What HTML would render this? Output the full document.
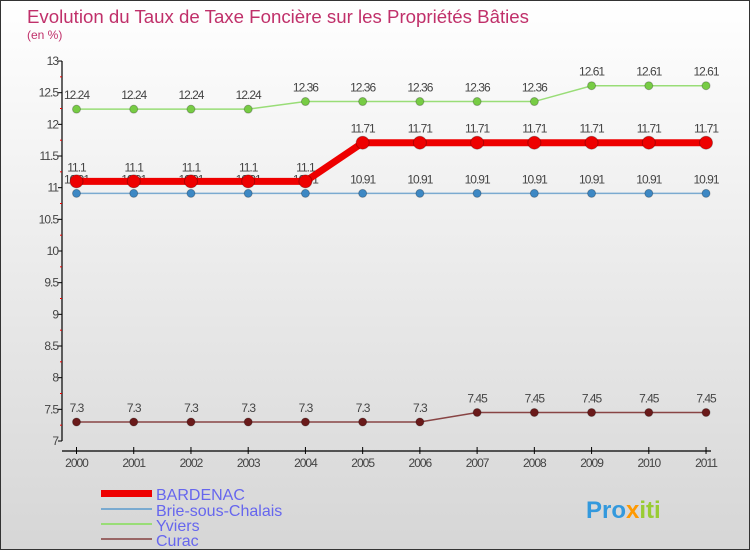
<!DOCTYPE html>
<html><head><meta charset="utf-8"><style>
body{margin:0}
#c{width:750px;height:550px;position:relative;overflow:hidden;background:linear-gradient(#ffffff,#d6d6d6);border:1px solid #333;box-sizing:border-box;font-family:"Liberation Sans",sans-serif}
</style></head><body>
<div id="c">
<svg width="750" height="550" id="s">
<text x="26" y="22" font-size="18" fill="#c0306a" textLength="502" lengthAdjust="spacingAndGlyphs">Evolution du Taux de Taxe Foncière sur les Propriétés Bâties</text>
<text x="26" y="38" font-size="12" fill="#c0306a">(en %)</text>
<g id="g"></g>
<text x="155" y="499" font-size="16" fill="#6666ee">BARDENAC</text>
<text x="155" y="515" font-size="16" fill="#6666ee">Brie-sous-Chalais</text>
<text x="155" y="530" font-size="16" fill="#6666ee">Yviers</text>
<text x="155" y="545" font-size="16" fill="#6666ee">Curac</text>
<rect x="100" y="489" width="51" height="7" fill="#ee0000"/>
<rect x="100" y="507" width="51" height="2" fill="#7aaad0"/>
<rect x="100" y="522" width="51" height="2" fill="#99dd77"/>
<rect x="100" y="537" width="51" height="2" fill="#996666"/>
<text x="585" y="517" font-size="24" font-weight="bold" fill="#3399dd">Pro<tspan fill="#ff9900">x</tspan><tspan fill="#99cc33">iti</tspan></text>
</svg>
</div>
<script>
const years=[2000,2001,2002,2003,2004,2005,2006,2007,2008,2009,2010,2011];
const bardenac=[11.1,11.1,11.1,11.1,11.1,11.71,11.71,11.71,11.71,11.71,11.71,11.71];
const brie=[10.91,10.91,10.91,10.91,10.91,10.91,10.91,10.91,10.91,10.91,10.91,10.91];
const yviers=[12.24,12.24,12.24,12.24,12.36,12.36,12.36,12.36,12.36,12.61,12.61,12.61];
const curac=[7.3,7.3,7.3,7.3,7.3,7.3,7.3,7.45,7.45,7.45,7.45,7.45];
const yTicks=[7,7.5,8,8.5,9,9.5,10,10.5,11,11.5,12,12.5,13];
const NS="http://www.w3.org/2000/svg";
const g=document.getElementById('g');
const X=i=>75.5+i*57.23;
const Y=v=>440-(v-7)*63.33;
function el(t,a){const e=document.createElementNS(NS,t);for(const k in a)e.setAttribute(k,a[k]);g.appendChild(e);return e;}
let e=el('line',{x1:61,y1:60,x2:61,y2:440,stroke:'#000','stroke-width':1.2});


e=el('line',{x1:61,y1:450,x2:710,y2:450,stroke:'#000','stroke-width':1.2});


yTicks.forEach((v,i)=>{
 e=el('line',{x1:57,x2:61,y1:Y(v),y2:Y(v),stroke:'#000'});
 
 
 e=el('text',{x:57,y:Y(v)+4,'font-size':12,'text-anchor':'end',fill:'#444','letter-spacing':'-1'});
 e.textContent=v;
 
 
 if(i<yTicks.length-1){
  e=el('line',{x1:59,x2:61,y1:Y(v+0.25),y2:Y(v+0.25),stroke:'#e00'});
  
  
 }
});
years.forEach((yr,i)=>{
 e=el('line',{x1:X(i),x2:X(i),y1:446,y2:453,stroke:'#000'});
 
 
 e=el('text',{x:X(i),y:466,'font-size':12,'text-anchor':'middle',fill:'#444','letter-spacing':'-1'});
 e.textContent=yr;
 
 
});
function series(name,data,color,dot,w,r){
 e=el('polyline',{points:data.map((v,i)=>X(i)+','+Y(v)).join(' '),fill:'none',stroke:color,'stroke-width':w});
 
 
 data.forEach((v,i)=>{
  e=el('circle',{cx:X(i),cy:Y(v),r:r,fill:dot,stroke:'rgba(0,0,0,0.25)'});
  
  
  e=el('text',{x:X(i),y:Y(v)-10,'font-size':12,'text-anchor':'middle',fill:'#444','letter-spacing':'-1'});
  e.textContent=v;
  
  
 });
}
series('curac',curac,'#884444','#6a1a1a',1.5,4);
series('brie',brie,'#7aaad0','#3d88c4',1.5,4);
series('yviers',yviers,'#99dd77','#77cc44',1.5,4);
series('bardenac',bardenac,'#ee0000','#ee0000',7,6.5);
</script>
</body></html>
